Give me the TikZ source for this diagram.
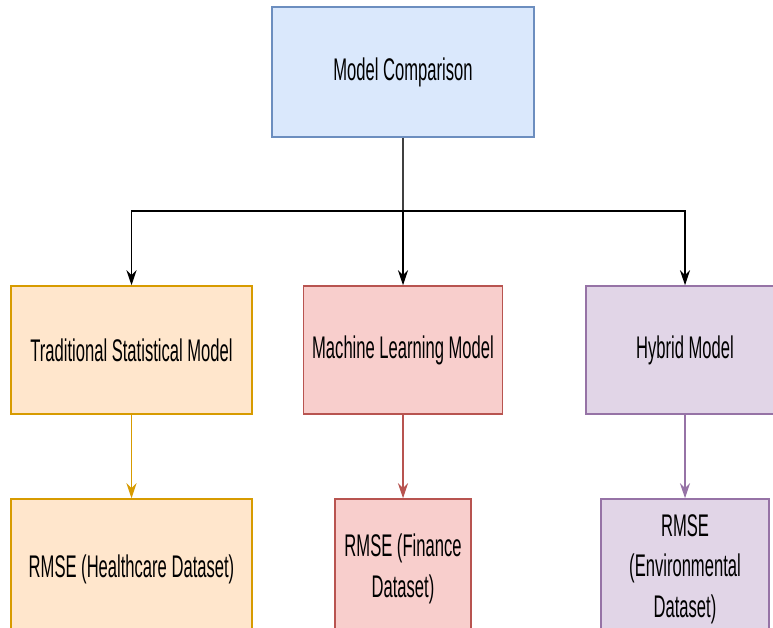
\documentclass[tikz,border=0pt]{standalone}
\usepackage{fontspec}
\newfontfamily\nf[FakeStretch=0.53]{Liberation Sans}
\usetikzlibrary{arrows.meta}
\definecolor{bfill}{HTML}{DAE8FC}\definecolor{bline}{HTML}{6C8EBF}
\definecolor{ofill}{HTML}{FFE6CC}\definecolor{oline}{HTML}{D79B00}
\definecolor{rfill}{HTML}{F8CECC}\definecolor{rline}{HTML}{B85450}
\definecolor{pfill}{HTML}{E1D5E7}\definecolor{pline}{HTML}{9673A6}
\tikzset{
  box/.style={rectangle, inner sep=0pt, align=center, line width=1.5pt,
    font=\nf\fontsize{31.3}{40.5}\selectfont},
  arr/.style={line width=1.8pt, -{Stealth[length=15pt,width=10pt,inset=5pt]}},
  carr/.style={line width=1.5pt, -{Stealth[length=15pt,width=10pt,inset=5pt]}},
}
\begin{document}
\begin{tikzpicture}[x=1pt,y=-1pt]
\clip (0,0) rectangle (773,628);
\fill[white] (0,0) rectangle (773,628);
\node[box, fill=bfill, draw=bline, minimum width=262pt, minimum height=130pt] (top) at (403,72) {Model Comparison};
\node[box, fill=ofill, draw=oline, minimum width=241pt, minimum height=128pt] (m1) at (131.5,350) {Traditional Statistical Model};
\node[box, fill=rfill, draw=rline, minimum width=199pt, minimum height=128pt] (m2) at (403,350) {Machine Learning Model};
\node[box, fill=pfill, draw=pline, minimum width=198pt, minimum height=128pt] (m3) at (685,350) {Hybrid Model};
\node[box, fill=ofill, draw=oline, minimum width=241pt, minimum height=140pt] (b1) at (131.5,569) {RMSE (Healthcare Dataset)};
\node[box, fill=rfill, draw=rline, minimum width=136pt, minimum height=140pt] (b2) at (403,569) {RMSE (Finance\\Dataset)};
\node[box, fill=pfill, draw=pline, minimum width=168pt, minimum height=140pt] (b3) at (685,569) {RMSE\\(Environmental\\Dataset)};
\coordinate (j) at (403,211);
\draw[line width=1.5pt, black!75] (top.south) -- (j);
\draw[arr] (j) -| (m1.north);
\draw[arr] (j) -- (m2.north);
\draw[arr] (j) -| (m3.north);
\draw[carr, draw=oline, fill=oline] (m1.south) -- (b1.north);
\draw[carr, draw=rline, fill=rline] (m2.south) -- (b2.north);
\draw[carr, draw=pline, fill=pline] (m3.south) -- (b3.north);
\end{tikzpicture}
\end{document}
